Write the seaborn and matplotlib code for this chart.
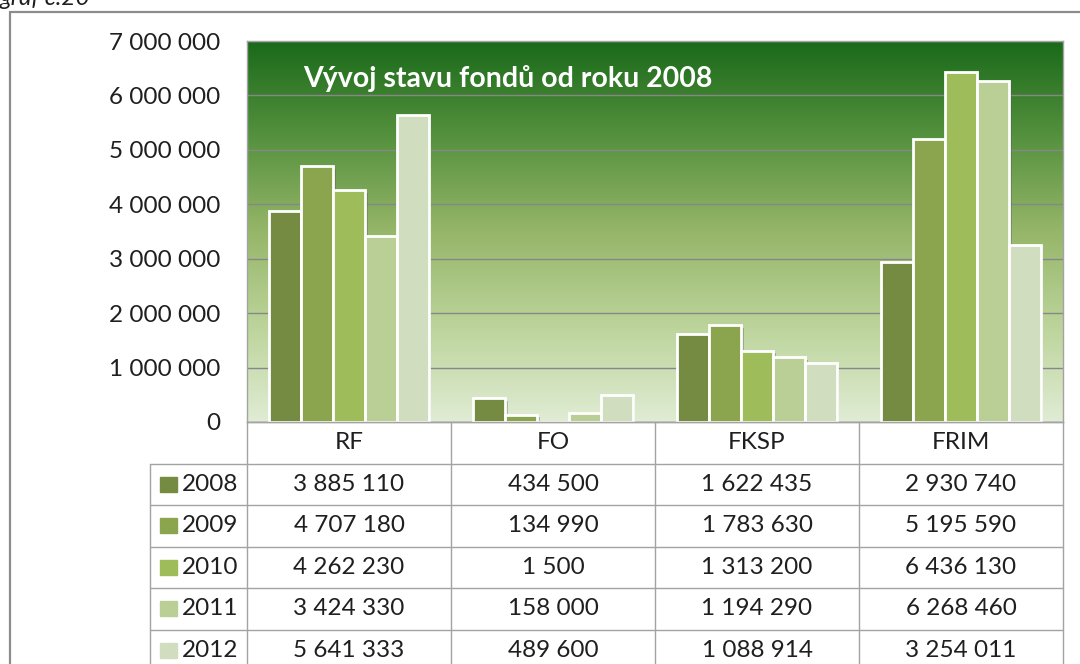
import matplotlib
matplotlib.use("Agg")
import matplotlib.patheffects as pe
import matplotlib.pyplot as plt
import numpy as np
import pandas as pd
import seaborn as sns
from matplotlib.colors import LinearSegmentedColormap
from matplotlib.patches import Rectangle

# chart data
FONDS = ["RF", "FO", "FKSP", "FRIM"]
YEARS = ["2008", "2009", "2010", "2011", "2012"]
VALUES_2008 = [3885110, 434500, 1622435, 2930740]
VALUES_2009 = [4707180, 134990, 1783630, 5195590]
VALUES_2010 = [4262230, 1500, 1313200, 6436130]
VALUES_2011 = [3424330, 158000, 1194290, 6268460]
VALUES_2012 = [5641333, 489600, 1088914, 3254011]
Y_TICKS = [0, 1000000, 2000000, 3000000, 4000000, 5000000, 6000000, 7000000]
TITLE = "Vývoj stavu fondů od roku 2008"
CAPTION = "graf č.20"

YEAR_COLORS = ["#758B41", "#8BA54E", "#9EBC5A", "#BACF96", "#D0DDBE"]
BG_STOPS = ["#E0ECD4", "#BCD49B", "#96B669", "#55913E", "#1A6A1A"]
TEXT_COLOR = "#1f1f1f"
LINE_COLOR = "#a3a3a3"

# layout in pixels
W, H = 1080, 664
PLOT_L, PLOT_R, PLOT_T, PLOT_B = 247, 1063, 41, 422
TABLE_L = 150
ROW_H = 41.5
FONT_SIZE = 17.5


def fmt(v: int) -> str:
    return f"{v:,}".replace(",", " ")


def build_frame() -> pd.DataFrame:
    series = [VALUES_2008, VALUES_2009, VALUES_2010, VALUES_2011, VALUES_2012]
    rows = []
    for year, vals in zip(YEARS, series):
        for fond, v in zip(FONDS, vals):
            rows.append({"fond": fond, "year": year, "value": v})
    return pd.DataFrame(rows)


def main() -> None:
    sns.set_theme(style="white")
    plt.rcParams["font.family"] = ["Lato", "DejaVu Sans"]

    df = build_frame()
    series = [VALUES_2008, VALUES_2009, VALUES_2010, VALUES_2011, VALUES_2012]

    fig = plt.figure(figsize=(W / 100, H / 100), dpi=100)
    ax = fig.add_axes([PLOT_L / W, 1 - PLOT_B / H, (PLOT_R - PLOT_L) / W, (PLOT_B - PLOT_T) / H])

    sns.barplot(
        data=df, x="fond", y="value", hue="year", hue_order=YEARS, order=FONDS,
        palette=YEAR_COLORS, width=0.78, saturation=1, edgecolor="white",
        linewidth=2, legend=False, ax=ax, zorder=3,
    )
    for bar in ax.patches:
        bar.set_path_effects([
            pe.SimplePatchShadow(offset=(2, -2), shadow_rgbFace="#555555", alpha=0.35),
            pe.Normal(),
        ])

    # green gradient background of the plot area
    cmap = LinearSegmentedColormap.from_list("bg", BG_STOPS)
    grad = np.linspace(0, 1, 256).reshape(-1, 1)
    ax.imshow(grad, cmap=cmap, aspect="auto", origin="lower",
              extent=(-0.5, len(FONDS) - 0.5, Y_TICKS[0], Y_TICKS[-1]), zorder=0)

    ax.set_xlim(-0.5, len(FONDS) - 0.5)
    ax.set_ylim(Y_TICKS[0], Y_TICKS[-1])
    ax.set_yticks(Y_TICKS)
    ax.set_yticklabels([fmt(t) for t in Y_TICKS])
    ax.set_axisbelow(True)
    ax.yaxis.grid(True, color="#878787", linewidth=1)
    ax.xaxis.grid(False)
    ax.tick_params(axis="y", length=0, pad=19, labelsize=FONT_SIZE, labelcolor=TEXT_COLOR)
    ax.tick_params(axis="x", length=0, labelbottom=False)
    ax.set_xlabel("")
    ax.set_ylabel("")
    for spine in ax.spines.values():
        spine.set_color(LINE_COLOR)
        spine.set_linewidth(1)

    # overlay in pixel units for title, data table and frame
    ov = fig.add_axes([0, 0, 1, 1], zorder=5)
    ov.set_xlim(0, W)
    ov.set_ylim(H, 0)
    ov.axis("off")

    ov.text(303, 87, TITLE, color="white", fontsize=20.5, fontweight="bold", va="baseline")
    ov.text(0, 5, CAPTION, color=TEXT_COLOR, fontsize=FONT_SIZE, style="italic", va="baseline")

    # outer frame (cut off at right and bottom)
    ov.plot([10, 10], [12, H + 20], color="#8c8c8c", lw=1.6, clip_on=False)
    ov.plot([10, W + 20], [12, 12], color="#8c8c8c", lw=1.6, clip_on=False)

    col_w = (PLOT_R - PLOT_L) / len(FONDS)
    col_edges = [PLOT_L + i * col_w for i in range(len(FONDS) + 1)]
    row_edges = [PLOT_B + i * ROW_H for i in range(len(YEARS) + 2)]

    for x in col_edges:
        ov.plot([x, x], [row_edges[0], row_edges[-1]], color=LINE_COLOR, lw=1)
    ov.plot([TABLE_L, TABLE_L], [row_edges[1], row_edges[-1]], color=LINE_COLOR, lw=1)
    ov.plot([PLOT_L, PLOT_R], [row_edges[0], row_edges[0]], color=LINE_COLOR, lw=1)
    for y in row_edges[1:]:
        ov.plot([TABLE_L, PLOT_R], [y, y], color=LINE_COLOR, lw=1)

    for i, fond in enumerate(FONDS):
        cx = col_edges[i] + col_w / 2
        ov.text(cx, (row_edges[0] + row_edges[1]) / 2, fond, ha="center", va="center",
                fontsize=FONT_SIZE, color=TEXT_COLOR)

    for r, (year, vals, color) in enumerate(zip(YEARS, series, YEAR_COLORS)):
        cy = (row_edges[r + 1] + row_edges[r + 2]) / 2
        ov.add_patch(Rectangle((160, cy - 7.5), 17, 15, color=color))
        ov.text(182, cy, year, ha="left", va="center", fontsize=FONT_SIZE, color=TEXT_COLOR)
        for i, v in enumerate(vals):
            cx = col_edges[i] + col_w / 2
            ov.text(cx, cy, fmt(v), ha="center", va="center", fontsize=FONT_SIZE, color=TEXT_COLOR)

    fig.savefig("out.png", dpi=100)
    plt.close(fig)


if __name__ == "__main__":
    main()
